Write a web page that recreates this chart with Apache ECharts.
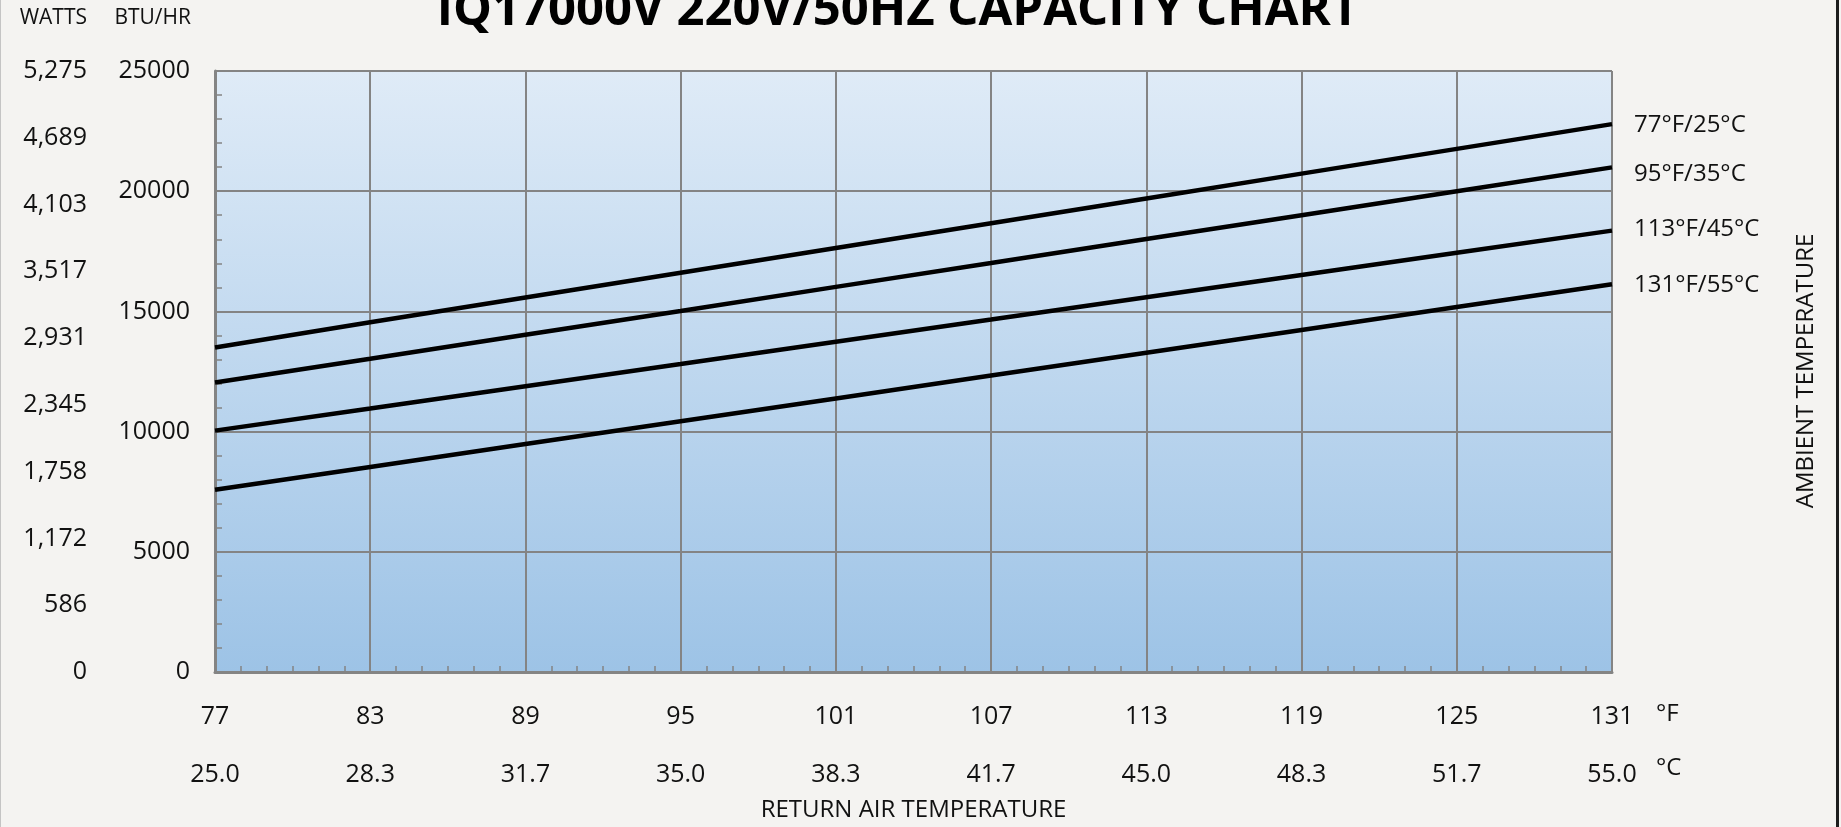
<!DOCTYPE html>
<html>
<head>
<meta charset="UTF-8">
<title>IQ17000V capacity chart</title>
<script src="https://cdn.jsdelivr.net/npm/echarts@6/dist/echarts.min.js"></script>
<style>
  html, body { margin: 0; padding: 0; background: #f4f3f1; }
  #main { width: 1841px; height: 827px; }
</style>
</head>
<body>
<div id="main"></div>
<script>
// return air temperature, degF (x positions of the points)
const returnAirF = [77, 83, 89, 95, 101, 107, 113, 119, 125, 131]
const celsiusLabels = ['25.0', '28.3', '31.7', '35.0', '38.3', '41.7', '45.0', '48.3', '51.7', '55.0']
const wattsLabels = ['0', '586', '1,172', '1,758', '2,345', '2,931', '3,517', '4,103', '4,689', '5,275']

// capacity in BTU/HR, one list per ambient temperature
const ambientNames = ['77°F/25°C', '95°F/35°C', '113°F/45°C', '131°F/55°C']
const cap77 = [13500, 14550, 15580, 16610, 17640, 18670, 19700, 20730, 21760, 22790]
const cap95 = [12040, 13030, 14030, 15020, 16020, 17010, 18010, 19000, 20000, 20990]
const cap113 = [10040, 10960, 11890, 12810, 13740, 14660, 15590, 16510, 17440, 18360]
const cap131 = [7580, 8530, 9480, 10430, 11380, 12330, 13280, 14230, 15180, 16130]

const FONT = '"Open Sans", "Liberation Sans", sans-serif'
const GRID = '#848484'
const TXT = '#111'

function init () {
    const chart = echarts.init(document.getElementById('main'))

    const caps = [cap77, cap95, cap113, cap131]
    // small vertical nudges so the end labels sit like in the original
    const labelNudge = [1, 7, -1, 1]
    const series = caps.map((vals, i) => ({
        name: ambientNames[i],
        type: 'line',
        symbol: 'none',
        lineStyle: { color: '#000', width: 4.5 },
        data: returnAirF.map((f, j) => [f, vals[j]]),
        endLabel: {
            show: true,
            formatter: p => p.seriesName,
            distance: 22,
            offset: [0, labelNudge[i]],
            color: TXT,
            fontFamily: FONT,
            fontSize: 24
        },
        emphasis: { disabled: true }
    }))

    const option = {
        animation: false,
        backgroundColor: '#f4f3f1',
        grid: {
            left: 215, top: 71, width: 1397, height: 611,
            show: true,
            borderWidth: 0,
            backgroundColor: new echarts.graphic.LinearGradient(0, 0, 0, 1, [
                { offset: 0, color: '#dfebf7' },
                { offset: 1, color: '#9dc3e6' }
            ])
        },
        xAxis: [
            {
                type: 'value', min: 77, max: 131, interval: 6,
                axisLine: { lineStyle: { color: GRID, width: 3 } },
                axisTick: { show: false, inside: true },
                minorTick: { show: true, splitNumber: 6, length: 6, lineStyle: { color: GRID, width: 1.5 } },
                splitLine: { lineStyle: { color: GRID, width: 2 } },
                axisLabel: { margin: 32, color: TXT, fontFamily: FONT, fontSize: 25 }
            },
            {
                type: 'value', min: 77, max: 131, interval: 6, position: 'bottom',
                axisLine: { show: false }, axisTick: { show: false }, splitLine: { show: false },
                axisLabel: {
                    margin: 90, color: TXT, fontFamily: FONT, fontSize: 25,
                    formatter: v => celsiusLabels[Math.round((v - 77) / 6)]
                },
                name: 'RETURN AIR TEMPERATURE',
                nameLocation: 'middle',
                nameGap: 126,
                nameTextStyle: { color: TXT, fontFamily: FONT, fontSize: 24 }
            }
        ],
        yAxis: [
            {
                type: 'value', min: 0, max: 25000, interval: 5000,
                axisLine: { show: true, lineStyle: { color: GRID, width: 3 } },
                axisTick: { show: false, inside: true },
                minorTick: { show: true, splitNumber: 5, length: 7, lineStyle: { color: GRID, width: 1.5 } },
                splitLine: { lineStyle: { color: GRID, width: 2 } },
                axisLabel: { margin: 25, color: TXT, fontFamily: FONT, fontSize: 25, formatter: v => String(v) },
                name: 'BTU/HR',
                nameLocation: 'end',
                nameGap: 42,
                nameTextStyle: { color: TXT, fontFamily: FONT, fontSize: 21, align: 'right', padding: [0, 24, 0, 0] }
            },
            {
                type: 'value', min: 0, max: 9, interval: 1, position: 'left', offset: 103,
                axisLine: { show: false }, axisTick: { show: false }, splitLine: { show: false },
                axisLabel: {
                    margin: 25, color: TXT, fontFamily: FONT, fontSize: 25,
                    formatter: v => wattsLabels[v]
                },
                name: 'WATTS',
                nameLocation: 'end',
                nameGap: 42,
                nameTextStyle: { color: TXT, fontFamily: FONT, fontSize: 21, align: 'right', padding: [0, 25, 0, 0] }
            }
        ],
        graphic: [
            {
                type: 'text', x: 898, y: -13,
                style: {
                    text: 'IQ17000V 220V/50HZ CAPACITY CHART',
                    fill: '#000', font: 'bold 49px ' + FONT,
                    align: 'center', verticalAlign: 'top'
                }
            },
            { type: 'text', left: 1656, top: 702, style: { text: '°F', fill: TXT, font: '24px ' + FONT } },
            { type: 'text', left: 1656, top: 756, style: { text: '°C', fill: TXT, font: '24px ' + FONT } },
            {
                type: 'text', x: 1806, y: 371, rotation: Math.PI / 2,
                style: {
                    text: 'AMBIENT TEMPERATURE', fill: TXT, font: '24px ' + FONT,
                    align: 'center', verticalAlign: 'middle'
                }
            },
            { type: 'rect', shape: { x: 1836, y: 0, width: 3, height: 827 }, style: { fill: '#1c1c1c' } },
            { type: 'rect', shape: { x: 0, y: 0, width: 1, height: 827 }, style: { fill: '#c4c4c4' } }
        ],
        series
    }

    chart.setOption(option)
}

init()
</script>
</body>
</html>
